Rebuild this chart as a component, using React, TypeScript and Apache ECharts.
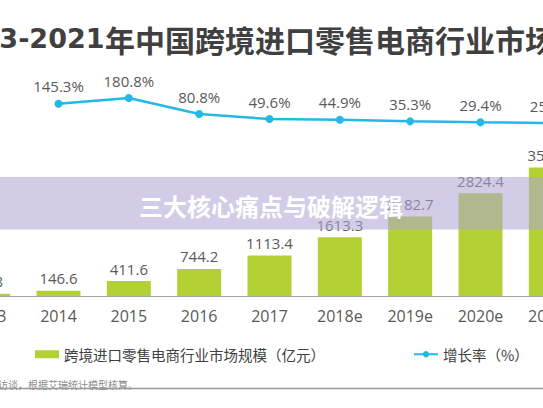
import React, { useEffect, useRef } from "react";
import * as echarts from "echarts";

const years = ["2013", "2014", "2015", "2016", "2017", "2018e", "2019e", "2020e", "2021e"];
const marketSize = [59.8, 146.6, 411.6, 744.2, 1113.4, 1613.3, 2182.7, 2824.4, 3530.5];
const growthRate: (number | null)[] = [null, 145.3, 180.8, 80.8, 49.6, 44.9, 35.3, 29.4, 25.0];

const titleYears = "2013-2021";
const titleText = "年中国跨境进口零售电商行业市场规模";
const barName = "跨境进口零售电商行业市场规模（亿元）";
const lineName = "增长率（%）";
const sourceText = "访谈，根据艾瑞统计模型核算。";
const bannerText = "三大核心痛点与破解逻辑";

const OFF = 60; // chart canvas offset to the left of the page
const FONT = "'Open Sans', 'Noto Sans CJK SC', sans-serif";
const CJK = "'Noto Sans CJK SC', sans-serif";

export default function App() {
  const ref = useRef<HTMLDivElement>(null);
  useEffect(() => {
    if (!ref.current) return;
    const chart = echarts.init(ref.current, null, { renderer: "svg" });
    const gridL = 13;
    const gridR = 54;
    chart.setOption({
      animation: false,
      backgroundColor: "#ffffff",
      legend: {
        left: OFF + 30,
        top: 342,
        itemGap: 88,
        itemWidth: 24,
        itemHeight: 8,
        textStyle: { fontFamily: CJK, fontSize: 14.5, color: "#404040" },
        data: [{ name: barName, icon: "rect" }, { name: lineName }],
      },
      grid: [
        { left: gridL, right: gridR, top: 95, height: 32 },
        { left: gridL, right: gridR, top: 150.5, height: 145.5 },
      ],
      xAxis: [
        { type: "category", gridIndex: 0, data: years, show: false },
        {
          type: "category",
          gridIndex: 1,
          data: years,
          axisLine: { lineStyle: { color: "#a6a6a6", width: 1 } },
          axisTick: { show: false },
          axisLabel: { fontFamily: FONT, fontSize: 16, color: "#595959", margin: 12 },
        },
      ],
      yAxis: [
        { type: "value", gridIndex: 0, min: 0, max: 200, show: false },
        { type: "value", gridIndex: 1, min: 0, max: 4000, show: false },
      ],
      series: [
        {
          name: barName,
          type: "bar",
          xAxisIndex: 1,
          yAxisIndex: 1,
          data: marketSize,
          barWidth: 44,
          itemStyle: { color: "#b3d135" },
          label: {
            show: true,
            position: "top",
            distance: 5,
            fontFamily: FONT,
            fontSize: 15,
            color: "#595959",
          },
        },
        {
          name: lineName,
          type: "line",
          xAxisIndex: 0,
          yAxisIndex: 0,
          data: growthRate,
          symbol: "circle",
          symbolSize: 8,
          lineStyle: { color: "#22b8e8", width: 2.5 },
          itemStyle: { color: "#22b8e8" },
          label: {
            show: true,
            position: "top",
            distance: 6,
            fontFamily: FONT,
            fontSize: 15,
            color: "#595959",
            formatter: (p: any) => (p.value == null ? "" : Number(p.value).toFixed(1) + "%"),
          },
        },
      ],
      graphic: [
        {
          type: "text",
          x: OFF - 57,
          y: 38.5,
          style: {
            text: titleYears,
            fontFamily: "'DejaVu Sans', sans-serif",
            fontSize: 27,
            fontWeight: "bold",
            fill: "#404040",
            align: "left",
            verticalAlign: "middle",
          },
        },
        {
          type: "text",
          x: OFF + 105,
          y: 38.5,
          style: {
            text: titleText,
            fontFamily: CJK,
            fontSize: 30,
            fontWeight: "bold",
            fill: "#404040",
            align: "left",
            verticalAlign: "middle",
          },
        },
        {
          type: "text",
          x: OFF - 2,
          y: 384,
          style: {
            text: sourceText,
            fontFamily: CJK,
            fontSize: 10,
            fill: "#8c8c8c",
            align: "left",
            verticalAlign: "middle",
          },
        },
        {
          type: "line",
          shape: { x1: OFF, y1: 388.5, x2: OFF + 543, y2: 388.5 },
          style: { stroke: "#999999", lineWidth: 1.5 },
        },
        {
          type: "rect",
          z: 100,
          shape: { x: OFF, y: 177, width: 543, height: 52.5 },
          style: { fill: "rgba(176,165,211,0.57)" },
        },
        {
          type: "text",
          z: 101,
          x: OFF + 271,
          y: 205,
          style: {
            text: bannerText,
            fontFamily: CJK,
            fontSize: 24,
            fontWeight: "bold",
            fill: "#ffffff",
            align: "center",
            verticalAlign: "middle",
          },
        },
      ],
    });
    return () => chart.dispose();
  }, []);
  return (
    <div
      style={{
        position: "fixed",
        left: 0,
        top: 0,
        width: 543,
        height: 408,
        overflow: "hidden",
        background: "#ffffff",
      }}
    >
      <div ref={ref} style={{ position: "absolute", left: -OFF, top: 0, width: 700, height: 408 }} />
    </div>
  );
}
